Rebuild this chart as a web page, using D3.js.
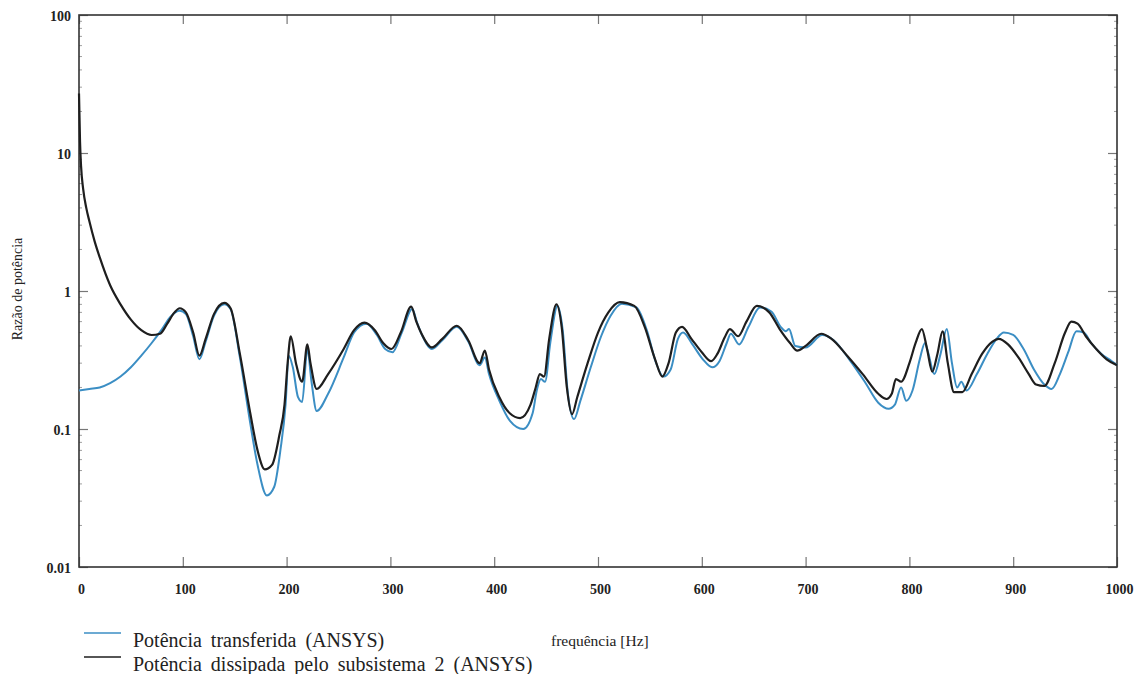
<!DOCTYPE html>
<html><head><meta charset="utf-8">
<script src="https://cdn.jsdelivr.net/npm/d3@7"></script>
<style>
body{margin:0;background:#fff;}
text{font-family:"Liberation Serif","DejaVu Serif",serif;fill:#222;}
</style></head>
<body>
<svg id="c" width="1137" height="674"></svg>
<script>
// ---- data ----
const xTicks = [0,100,200,300,400,500,600,700,800,900,1000];
const yTicks = [0.01,0.1,1,10,100];
const yTickLabels = ["0.01","0.1","1","10","100"];
const seriesNames = ["Potência transferida (ANSYS)","Potência dissipada pelo subsistema 2 (ANSYS)"];

const freqDissipada = [0,1,2,4,7,10,15,20,30,40,50,60,70,78,85,92,97,103,110,116,122,130,140,146,155,165,172,179,186,193,198,201,204,209,215,220,223,229,240,255,265,275,285,293,301,310,320,325,330,340,350,364,375,386,391,395,405,415,425,435,440,444,448,453,460,465,470,475,480,490,500,510,521,535,545,555,562,568,575,581,590,600,609,615,622,627,635,643,653,665,675,685,692,700,715,725,740,755,770,778,783,787,792,800,806,812,817,822,827,832,837,843,851,860,870,880,886,895,905,915,922,930,940,950,956,962,970,980,990,1000];
const valDissipada = [27,12,8,5.5,4,3.2,2.3,1.75,1.1,0.8,0.62,0.52,0.48,0.49,0.58,0.7,0.75,0.7,0.5,0.34,0.45,0.68,0.82,0.75,0.35,0.13,0.07,0.051,0.055,0.09,0.15,0.3,0.47,0.3,0.22,0.41,0.3,0.195,0.25,0.38,0.52,0.59,0.52,0.42,0.38,0.5,0.77,0.6,0.49,0.39,0.45,0.56,0.44,0.30,0.37,0.27,0.17,0.13,0.12,0.15,0.2,0.25,0.24,0.45,0.8,0.55,0.2,0.128,0.17,0.3,0.5,0.7,0.83,0.78,0.55,0.32,0.24,0.3,0.5,0.55,0.45,0.36,0.31,0.35,0.46,0.53,0.47,0.6,0.78,0.7,0.53,0.42,0.37,0.4,0.49,0.45,0.34,0.25,0.18,0.165,0.18,0.23,0.22,0.3,0.42,0.53,0.38,0.26,0.35,0.51,0.3,0.185,0.185,0.25,0.35,0.43,0.45,0.41,0.33,0.25,0.21,0.205,0.3,0.5,0.6,0.58,0.47,0.38,0.32,0.29];

const freqTransferida = [0,10,20,30,40,50,60,70,80,88,97,103,110,116,122,130,140,146,155,165,172,181,188,194,199,202,206,211,215,220,224,229,240,255,265,277,287,295,302,311,321,326,331,340,350,364,375,386,391,395,405,415,428,437,441,445,449,454,461,466,471,477,483,493,503,512,523,537,547,556,563,570,577,582,591,601,610,617,624,628,636,645,656,667,676,681,684,690,700,716,727,742,757,770,780,786,792,797,803,810,815,818,824,830,836,841,846,850,855,865,875,884,891,900,910,920,930,937,945,953,961,968,975,985,995,1000];
const valTransferida = [0.19,0.195,0.2,0.215,0.24,0.28,0.34,0.42,0.53,0.65,0.72,0.68,0.47,0.32,0.43,0.66,0.8,0.74,0.33,0.11,0.055,0.033,0.038,0.07,0.15,0.34,0.28,0.17,0.157,0.38,0.22,0.135,0.18,0.33,0.5,0.58,0.48,0.38,0.36,0.5,0.74,0.58,0.47,0.38,0.44,0.55,0.43,0.29,0.33,0.25,0.16,0.115,0.1,0.13,0.19,0.23,0.22,0.42,0.78,0.52,0.18,0.118,0.16,0.28,0.47,0.66,0.81,0.76,0.52,0.3,0.24,0.27,0.45,0.5,0.41,0.32,0.28,0.31,0.42,0.49,0.41,0.55,0.76,0.71,0.55,0.51,0.53,0.4,0.39,0.48,0.44,0.32,0.22,0.155,0.14,0.15,0.2,0.16,0.19,0.32,0.42,0.36,0.25,0.35,0.53,0.3,0.2,0.22,0.19,0.25,0.35,0.45,0.5,0.48,0.38,0.27,0.21,0.195,0.25,0.36,0.51,0.5,0.42,0.35,0.31,0.29];

const colors = ["#3b8ec4","#1e1e1e"];

// ---- chart ----
const svg = d3.select("#c");
const L=79, R=1117, T=15, B=567;
const x = d3.scaleLinear().domain([0,1000]).range([L,R]);
const y = d3.scaleLog().domain([0.01,100]).range([B,T]);

const g = svg.append("g");

// minor ticks (log)
const minor = [];
for (let d=0.01; d<100; d*=10) for (let k=2;k<10;k++) minor.push(d*k);
g.selectAll(".mnl").data(minor).join("line")
  .attr("x1",L).attr("x2",L+3).attr("y1",d=>y(d)).attr("y2",d=>y(d))
  .attr("stroke","#888").attr("stroke-width",0.8);
g.selectAll(".mnr").data(minor).join("line")
  .attr("x1",R).attr("x2",R-3).attr("y1",d=>y(d)).attr("y2",d=>y(d))
  .attr("stroke","#888").attr("stroke-width",0.8);

// axes using d3 axis generators (inward ticks)
const fmtY = d => yTickLabels[yTicks.indexOf(d)];
const axL = g.append("g").attr("transform",`translate(${L},0)`)
  .call(d3.axisLeft(y).tickValues(yTicks).tickFormat(fmtY).tickSize(-9).tickPadding(8));
const axR = g.append("g").attr("transform",`translate(${R},0)`)
  .call(d3.axisRight(y).tickValues(yTicks).tickFormat("").tickSize(-9));
const axB = g.append("g").attr("transform",`translate(0,${B})`)
  .call(d3.axisBottom(x).tickValues(xTicks).tickFormat(d3.format("d")).tickSize(-10).tickPadding(17));
const axT = g.append("g").attr("transform",`translate(0,${T})`)
  .call(d3.axisTop(x).tickValues(xTicks).tickFormat("").tickSize(-9));

[axL,axR,axB,axT].forEach(a=>{
  a.select(".domain").remove();
  a.selectAll(".tick line").attr("stroke","#777").attr("stroke-width",1.2);
  a.selectAll(".tick text").attr("font-family","Liberation Serif, DejaVu Serif, serif")
    .attr("font-size",14).attr("font-weight","bold").attr("fill","#333");
});
axB.selectAll(".tick text").attr("dx", 2);
axL.selectAll(".tick text").attr("dy","0.4em");

// frame
g.append("rect").attr("x",L).attr("y",T).attr("width",R-L).attr("height",B-T)
  .attr("fill","none").attr("stroke","#333").attr("stroke-width",1.6);

// lines
const line = d3.line().x(d=>x(d[0])).y(d=>y(d[1])).curve(d3.curveMonotoneX);
const dataT = freqTransferida.map((f,i)=>[f,valTransferida[i]]);
const dataD = freqDissipada.map((f,i)=>[f,valDissipada[i]]);
g.append("path").datum(dataT).attr("d",line).attr("fill","none")
  .attr("stroke",colors[0]).attr("stroke-width",2);
g.append("path").datum(dataD).attr("d",line).attr("fill","none")
  .attr("stroke",colors[1]).attr("stroke-width",2.2);

// y label
svg.append("text").attr("transform","translate(22,289) rotate(-90)")
  .attr("text-anchor","middle").attr("font-size",14).text("Razão de potência");
// x label
svg.append("text").attr("x",551).attr("y",646).attr("font-size",15.5).text("frequência [Hz]");

// legend
const leg = svg.append("g");
seriesNames.forEach((n,i)=>{
  const yy = 633 + i*24;
  leg.append("line").attr("x1",84).attr("x2",121).attr("y1",yy).attr("y2",yy)
    .attr("stroke",colors[i]).attr("stroke-width",1.6);
  leg.append("text").attr("x",133).attr("y",yy+14).attr("font-size",20)
    .attr("word-spacing",4).text(n);
});
</script>
</body></html>
